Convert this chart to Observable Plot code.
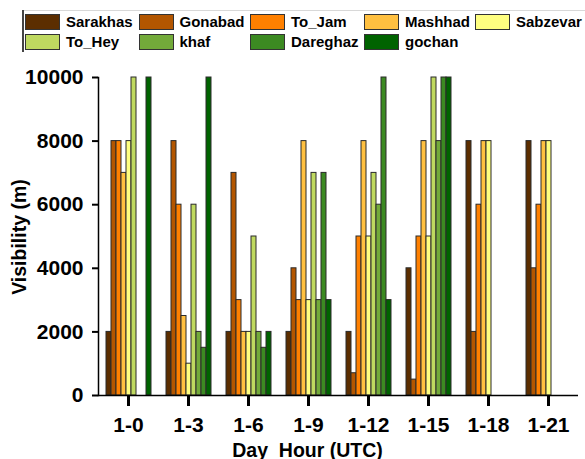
<!DOCTYPE html>
<html><head><meta charset="utf-8">
<script src="https://cdn.jsdelivr.net/npm/d3@7"></script>
<script src="https://cdn.jsdelivr.net/npm/@observablehq/plot@0.6"></script>
<style>
body{margin:0;background:#fff;font-family:"Liberation Sans",Arial,sans-serif;}
#wrap{position:relative;width:585px;height:459px;overflow:hidden;background:#fff;}
#legend{position:relative;height:60px;}
#legend .frameL{position:absolute;left:22px;top:10px;width:1.5px;height:42px;background:#444;}
#legend .frameT{position:absolute;left:22px;top:10px;width:570px;height:1px;background:#d8d8d8;}
#legend .sw{position:absolute;width:35px;height:16px;box-sizing:border-box;border:1px solid #333;}
#legend .lb{position:absolute;font-size:15px;font-weight:bold;line-height:16px;color:#000;white-space:nowrap;}
#chart{position:absolute;left:0;top:60px;}
.title{position:absolute;font-size:19.5px;font-weight:bold;line-height:1;color:#000;white-space:pre;}
#xtitle{left:307.5px;top:440.5px;transform:translateX(-50%);}
#ytitle{left:19.5px;top:236.5px;transform:translate(-50%,-50%) rotate(-90deg);}
</style></head>
<body><div id="wrap"><div id="legend"><div class="frameT"></div><div class="frameL"></div></div><div id="chart"></div>
<div id="xtitle" class="title">Day  Hour (UTC)</div><div id="ytitle" class="title">Visibility (m)</div></div>
<script>
const hours = ["1-0", "1-3", "1-6", "1-9", "1-12", "1-15", "1-18", "1-21"];
const stations = ["Sarakhas", "Gonabad", "To_Jam", "Mashhad", "Sabzevar", "To_Hey", "khaf", "Dareghaz", "gochan"];
const colors = ["#5c2e00", "#b35600", "#ff8000", "#ffc040", "#ffff80", "#bfd960", "#73aa3a", "#3c8a22", "#006300"];
const yTicks = [0, 2000, 4000, 6000, 8000, 10000];

const Sarakhas = [2000, 2000, 2000, 2000, 2000, 4000, 8000, 8000];
const Gonabad  = [8000, 8000, 7000, 4000, 700, 500, 2000, 4000];
const To_Jam   = [8000, 6000, 3000, 3000, 5000, 5000, 6000, 6000];
const Mashhad  = [7000, 2500, 2000, 8000, 8000, 8000, 8000, 8000];
const Sabzevar = [8000, 1000, 2000, 3000, 5000, 5000, 8000, 8000];
const To_Hey   = [10000, 6000, 5000, 7000, 7000, 10000, null, null];
const khaf     = [null, 2000, 2000, 3000, 6000, 8000, null, null];
const Dareghaz = [null, 1500, 1500, 7000, 10000, 10000, null, null];
const gochan   = [10000, 10000, 2000, 3000, 3000, 10000, null, null];

const series = [Sarakhas, Gonabad, To_Jam, Mashhad, Sabzevar, To_Hey, khaf, Dareghaz, gochan];
const data = [];
stations.forEach((s, si) => series[si].forEach((v, hi) => {
  if (v != null) data.push({hour: hours[hi], station: s, value: v});
}));

// legend
const legend = document.getElementById("legend");
const colX = [25, 138.5, 250, 364, 475];
stations.forEach((s, i) => {
  const row = i < 5 ? 0 : 1;
  const col = i < 5 ? i : i - 5;
  const top = row === 0 ? 13.5 : 33.5;
  const sw = document.createElement("div");
  sw.className = "sw";
  sw.style.left = colX[col] + "px";
  sw.style.top = top + "px";
  sw.style.background = colors[i];
  legend.appendChild(sw);
  const lb = document.createElement("div");
  lb.className = "lb";
  lb.style.left = (colX[col] + 41) + "px";
  lb.style.top = top + "px";
  lb.textContent = s;
  legend.appendChild(lb);
});

const chart = Plot.plot({
  width: 585,
  height: 399,
  marginTop: 17,
  marginBottom: 64,
  marginLeft: 97,
  marginRight: 7,
  style: {fontFamily: "'Liberation Sans', Arial, sans-serif", fontWeight: "bold", fontSize: "21px", color: "#000", background: "transparent", overflow: "visible"},
  fx: {domain: hours, padding: 0, label: null},
  x: {domain: stations, paddingInner: 0, paddingOuter: 1.1, axis: null},
  y: {domain: [0, 10000]},
  color: {domain: stations, range: colors},
  marks: [
    Plot.barY(data, {fx: "hour", x: "station", y: "value", fill: "station", stroke: "#2a2a2a", strokeWidth: 1}),
    Plot.ruleY([0], {stroke: "#000", strokeWidth: 1.5}),
    Plot.frame({anchor: "left", facetAnchor: "left", stroke: "#000", strokeWidth: 1.5}),
    Plot.axisY({ticks: yTicks, tickFormat: d => String(d), tickSize: 6, tickPadding: 9, fontSize: 21, fontWeight: "bold", label: null, strokeWidth: 2}),
    Plot.axisFx({anchor: "bottom", tickSize: 11, tickPadding: 11, fontSize: 21, fontWeight: "bold", label: null, strokeWidth: 3})
  ]
});
document.getElementById("chart").appendChild(chart);
</script>
</body></html>
